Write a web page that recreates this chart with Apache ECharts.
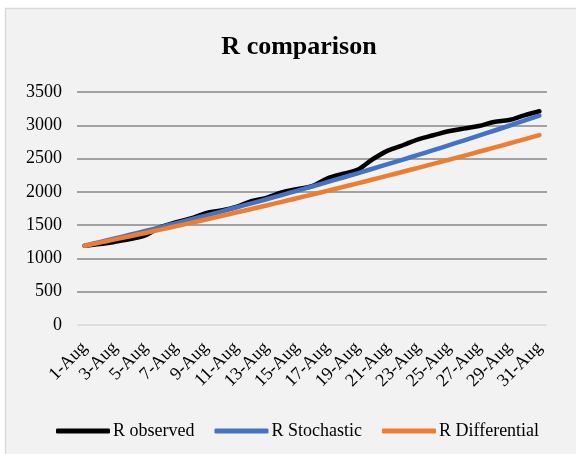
<!DOCTYPE html>
<html>
<head>
<meta charset="utf-8">
<title>R comparison</title>
<script src="https://cdn.jsdelivr.net/npm/echarts@6/dist/echarts.min.js"></script>
<style>
  html, body { margin: 0; padding: 0; background: #ffffff; }
  #chart { width: 576px; height: 454px; }
</style>
</head>
<body>
<div id="chart"></div>
<script>
// Daily dates, 1-31 August
const days = [];
for (let d = 1; d <= 31; d++) days.push(d + '-Aug');

// Cumulative R values per day
const rObserved = [1190, 1215, 1250, 1290, 1345, 1470, 1540, 1600, 1680, 1720,
                   1775, 1860, 1910, 1990, 2040, 2085, 2200, 2270, 2330, 2490,
                   2620, 2700, 2790, 2850, 2910, 2950, 2990, 3050, 3080, 3150, 3210];
const rStochastic = [1190, 1245, 1300, 1356, 1412, 1469, 1527, 1585, 1644, 1704,
                     1765, 1827, 1889, 1952, 2016, 2081, 2146, 2212, 2279, 2347,
                     2416, 2485, 2555, 2626, 2698, 2771, 2844, 2918, 2993, 3069, 3146];
const rDifferential = [1190, 1237, 1286, 1334, 1383, 1433, 1483, 1534, 1585, 1637,
                       1689, 1742, 1796, 1850, 1904, 1959, 2015, 2071, 2128, 2185,
                       2243, 2302, 2361, 2420, 2480, 2541, 2602, 2664, 2726, 2789, 2853];

const seriesNames = ['R observed', 'R Stochastic', 'R Differential'];
const seriesColors = ['#000000', '#4472c4', '#ed7d31'];

const serif = '"Liberation Serif", "Times New Roman", serif';
const gridColors = ['#d9d9d9', '#878787', '#878787', '#878787', '#878787', '#878787', '#878787', '#878787'];

const chart = echarts.init(document.getElementById('chart'), null, { renderer: 'canvas' });

function lineSeries(name, data, color) {
  return {
    name: name,
    type: 'line',
    data: data,
    smooth: 0.35,
    showSymbol: false,
    symbol: 'none',
    lineStyle: { color: color, width: 4.5, cap: 'round', join: 'round' },
    itemStyle: { color: color }
  };
}

chart.setOption({
  animation: false,
  backgroundColor: '#ffffff',
  graphic: [{
    type: 'rect',
    z: -10,
    silent: true,
    shape: { x: 5.5, y: 8.5, width: 600, height: 500 },
    style: { fill: '#f2f2f2', stroke: '#d9d9d9', lineWidth: 1.5 }
  }],
  title: {
    text: 'R comparison',
    left: 294,
    textAlign: 'center',
    top: 29,
    textStyle: { fontFamily: serif, fontSize: 26, fontWeight: 'bold', color: '#000000' }
  },
  legend: {
    data: seriesNames,
    left: 51,
    top: 417,
    itemWidth: 54,
    itemHeight: 5,
    itemGap: 20,
    icon: 'roundRect',
    textStyle: { fontFamily: serif, fontSize: 18, color: '#000000', padding: [0, 0, 0, -2] }
  },
  grid: { left: 77, right: 29, top: 92, bottom: 129, containLabel: false },
  xAxis: {
    type: 'category',
    data: days,
    boundaryGap: true,
    axisLine: { show: false },
    axisTick: { show: false },
    axisLabel: {
      interval: 1,
      rotate: 45,
      margin: 20,
      fontFamily: serif,
      fontSize: 18,
      color: '#000000'
    },
    splitLine: { show: false }
  },
  yAxis: {
    type: 'value',
    min: 0,
    max: 3500,
    interval: 500,
    axisLine: { show: false },
    axisTick: { show: false },
    axisLabel: {
      margin: 15,
      fontFamily: serif,
      fontSize: 18,
      color: '#000000',
      formatter: function (v) { return String(v); }
    },
    splitLine: { show: true, lineStyle: { color: gridColors, width: 1.5 } }
  },
  series: [
    lineSeries(seriesNames[0], rObserved, seriesColors[0]),
    lineSeries(seriesNames[1], rStochastic, seriesColors[1]),
    lineSeries(seriesNames[2], rDifferential, seriesColors[2])
  ]
});
</script>
</body>
</html>
